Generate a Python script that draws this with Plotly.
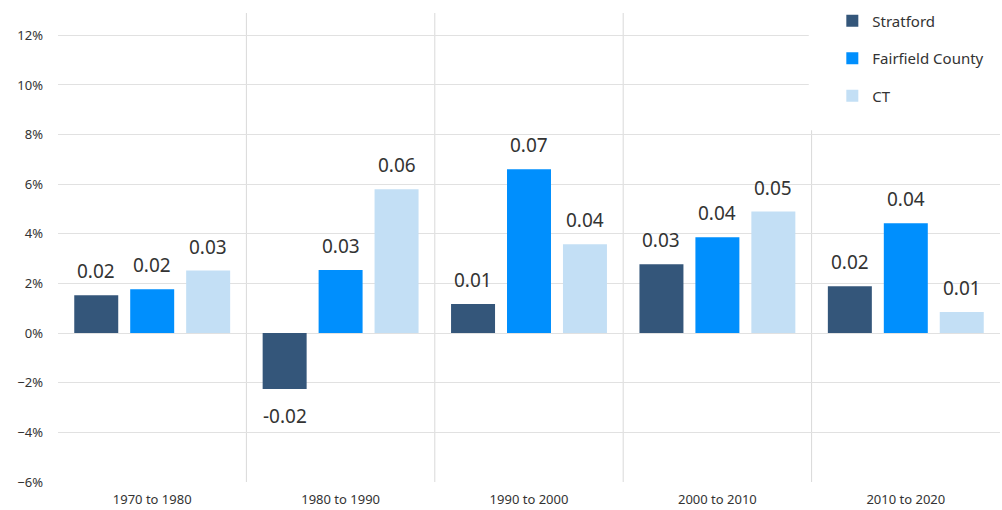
import plotly.graph_objects as go

periods = ["1970 to 1980", "1980 to 1990", "1990 to 2000", "2000 to 2010", "2010 to 2020"]
stratford = [0.0153, -0.0225, 0.0117, 0.0278, 0.0189]
fairfield = [0.0177, 0.0254, 0.0660, 0.0386, 0.0443]
ct = [0.0252, 0.0580, 0.0358, 0.0490, 0.0085]

series_names = ["Stratford", "Fairfield County", "CT"]
series_colors = ["#34567a", "#008ffd", "#c3dff5"]

FONT = "Noto Sans"
TXT = "#333333"

fig = go.Figure()
for k, (name, vals, col) in enumerate(zip(series_names, [stratford, fairfield, ct], series_colors)):
    fig.add_trace(go.Bar(
        x=periods, y=vals, name=name,
        marker=dict(color=col, line=dict(width=0)),
        offsetgroup=str(k), legendgroup=str(k),
        hoverinfo="skip",
    ))

# value labels, rounded like the source (two decimals)
for k, vals in enumerate([stratford, fairfield, ct]):
    offs = (k - 1) * 56
    for p, v in zip(periods, vals):
        fig.add_annotation(
            x=p, y=v, text="%.2f" % v, showarrow=False,
            xshift=offs,
            yanchor="bottom" if v >= 0 else "top",
            yshift=9 if v >= 0 else -12,
            font=dict(family=FONT, size=19, color=TXT),
        )

# separators between the periods
for i in range(len(periods) - 1):
    fig.add_shape(type="line", xref="x", yref="paper", x0=i + 0.5, x1=i + 0.5,
                  y0=0, y1=1, line=dict(color="#d9d9d9", width=1), layer="below")

# white box behind the legend
fig.add_shape(type="rect", xref="paper", yref="paper", x0=0.797, x1=1.0, y0=0.75, y1=1.03,
              fillcolor="white", line=dict(width=0), layer="above")

fig.update_layout(
    width=1002, height=510,
    margin=dict(l=58, r=2, t=13, b=28),
    plot_bgcolor="white", paper_bgcolor="white",
    barmode="group", bargap=0.109, bargroupgap=0.214,
    font=dict(family=FONT, color=TXT),
    legend=dict(x=0.822, xanchor="left", y=1.018, yanchor="top",
                bgcolor="rgba(0,0,0,0)", font=dict(size=15, color=TXT),
                traceorder="grouped", tracegroupgap=15, itemwidth=30),
    showlegend=True,
)
fig.update_xaxes(showgrid=False, showline=False, ticks="", tickfont=dict(size=13, color=TXT),
                 ticklabelstandoff=8)
fig.update_yaxes(range=[-0.06, 0.129], tickvals=[-0.06, -0.04, -0.02, 0, 0.02, 0.04, 0.06, 0.08, 0.10, 0.12],
                 tickformat=".0%", showgrid=True, gridcolor="#e1e1e1", gridwidth=1,
                 zeroline=True, zerolinecolor="#e1e1e1", zerolinewidth=1,
                 showline=False, ticks="", tickfont=dict(size=13, color=TXT), ticklabelstandoff=14)

# drop the browser's default page margin so the figure sits at the top-left corner
fig.write_html("out.html", config={"displayModeBar": False},
               post_script="document.body.style.margin='0';")
